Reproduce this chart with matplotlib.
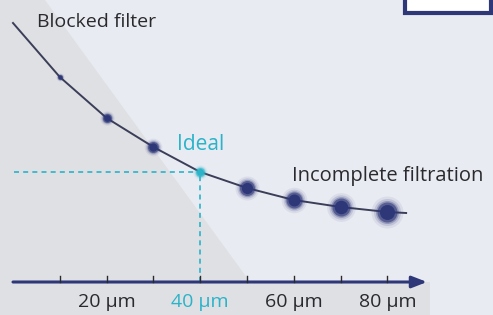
import matplotlib.pyplot as plt
import matplotlib as mpl
from matplotlib.patches import Polygon, Rectangle
import numpy as np

# pore size (um) vs. flow resistance (arbitrary units)
pore = [0, 10, 20, 30, 40, 50, 60, 70, 80, 84]
resist = [259, 205, 164, 135, 110, 94, 82, 75, 70, 69]
dot_size = [0, 5, 9, 11, 9, 15, 16, 18, 20, 0]   # marker diameter, px
ideal = 40
tick_pos = [10, 20, 30, 40, 50, 60, 70, 80]
label_pos = [20, 40, 60, 80]
label_txt = ['20 µm', '40 µm', '60 µm', '80 µm']

navy = '#2e3878'
cyan = '#2bb3c9'
dark = '#2a2a2e'

mpl.rcParams['font.family'] = ['Open Sans', 'DejaVu Sans']

fig = plt.figure(figsize=(4.93, 3.15), dpi=100)
ax = fig.add_axes([0, 0, 1, 1])
x0, k = 13, 4.68
ax.set_xlim(-x0 / k, (493 - x0) / k)
ax.set_ylim(-33, 282)
ax.axis('off')

def px(v):
    return (v - x0) / k

# background: light bluish with darker grey wedge on the left
ax.add_patch(Rectangle((-10, -40), 130, 340, color='#e9ebf2', zorder=0, lw=0))
ax.add_patch(Polygon([(-10, 300), (px(45), 282), (px(250), 0), (px(430), 0),
                      (px(430), -40), (-10, -40)],
                     closed=True, color='#dfe0e4', zorder=0.5, lw=0))

# corner box at top right
ax.add_patch(Rectangle((px(405), 269), 86 / k, 40, facecolor='white',
                       edgecolor=navy, lw=3, zorder=2))

# curve
ax.plot(pore, resist, color='#3b3e58', lw=1.4, zorder=3)

# glowing dots
for i in range(1, 9):
    c = cyan if pore[i] == ideal else navy
    d = dot_size[i] * 0.72
    for f, a in [(1.6, 0.08), (1.35, 0.15), (1.15, 0.3), (1.0, 0.6), (0.75, 1.0)]:
        ax.scatter(pore[i], resist[i], s=(d * f) ** 2, color=c, alpha=a,
                   lw=0, zorder=4)

# ideal guides
iy = resist[pore.index(ideal)]
ax.plot([0.3, ideal], [iy, iy], color=cyan, lw=1.2, ls=(0, (3, 2.5)), zorder=2)
ax.plot([ideal, ideal], [0, iy], color=cyan, lw=1.2, ls=(0, (3, 2.5)), zorder=2)

# x axis with arrow
ax.annotate('', xy=(px(427), 0), xytext=(0, 0),
            arrowprops=dict(arrowstyle='-|>,head_length=0.9,head_width=0.35',
                            color=navy, lw=2.2, shrinkA=0, shrinkB=0), zorder=3)
for t in tick_pos:
    ax.plot([t, t], [0, 6], color=dark, lw=1, zorder=3)
for p, s in zip(label_pos, label_txt):
    ax.text(p, -20, s, ha='center', va='center', fontsize=14,
            color=cyan if p == ideal else dark)

ax.text(px(37), 260, 'Blocked filter', fontsize=14, color=dark,
        ha='left', va='center')
ax.text(ideal, 137, 'Ideal', fontsize=15, color=cyan, ha='center', va='center')
ax.text(px(292), 106, 'Incomplete filtration', fontsize=14.5, color=dark,
        ha='left', va='center')

plt.savefig('out.png', dpi=100)
